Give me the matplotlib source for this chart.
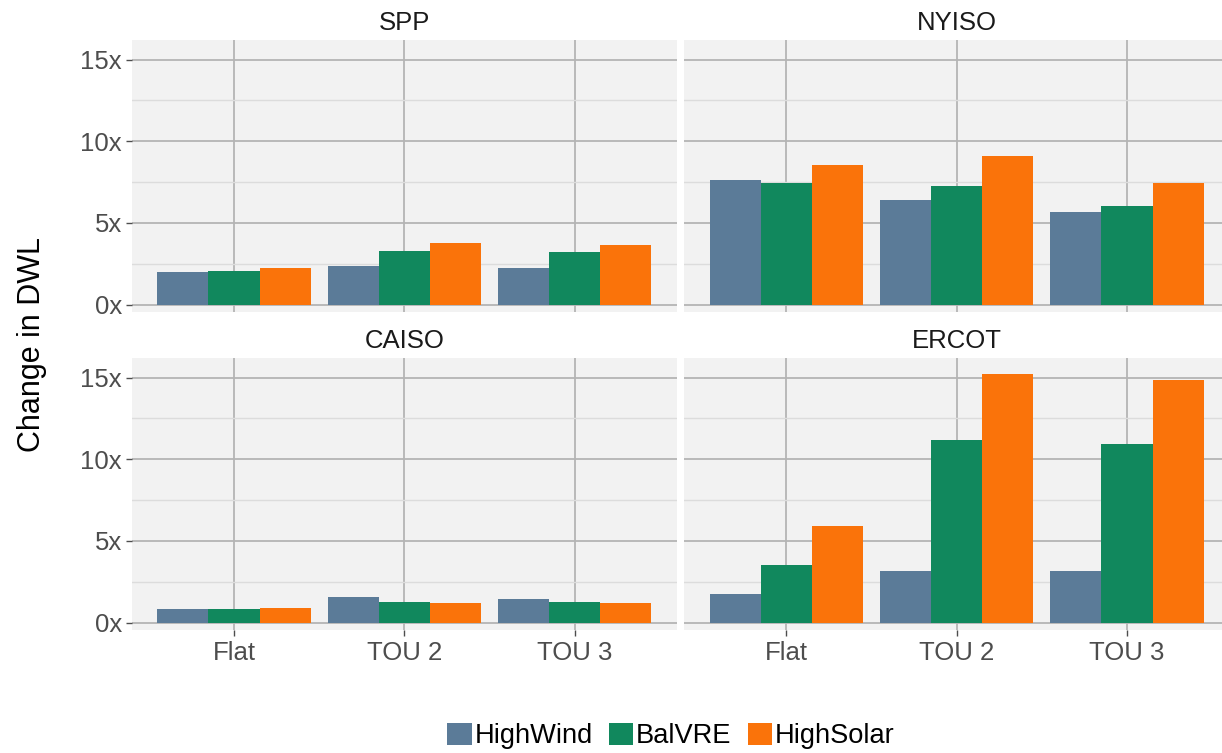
import numpy as np
import matplotlib
matplotlib.use("Agg")
import matplotlib.pyplot as plt
from matplotlib.patches import Patch

plt.rcParams["font.family"] = ["Liberation Sans", "DejaVu Sans"]

# pricing schemes on the x axis
tariffs = ["Flat", "TOU 2", "TOU 3"]
scenarios = ["HighWind", "BalVRE", "HighSolar"]
colors = ["#5b7b98", "#11885d", "#fa730a"]

# change in DWL, one row per scenario, one column per tariff
spp = [[2.0, 2.37, 2.27],
       [2.08, 3.31, 3.22],
       [2.27, 3.80, 3.67]]
nyiso = [[7.65, 6.42, 5.69],
         [7.46, 7.28, 6.05],
         [8.56, 9.11, 7.46]]
caiso = [[0.86, 1.55, 1.45],
         [0.86, 1.26, 1.26],
         [0.87, 1.18, 1.18]]
ercot = [[1.74, 3.16, 3.16],
         [3.53, 11.16, 10.96],
         [5.91, 15.25, 14.86]]

W, H = 1222, 753
fig = plt.figure(figsize=(W / 100, H / 100), dpi=100)

pw = (677 - 131.7) / W
ph = 272 / H
panels = [
    ("SPP", spp, 131.7, 312, True, False),
    ("NYISO", nyiso, 684, 312, False, False),
    ("CAISO", caiso, 131.7, 630, True, True),
    ("ERCOT", ercot, 684, 630, False, True),
]

x = np.arange(len(tariffs))
bw = 0.3
tick_grey = "#4d4d4d"

for name, vals, left, bottom, show_y, show_x in panels:
    ax = fig.add_axes([left / W, 1 - bottom / H, pw, ph])
    ax.set_facecolor("#f2f2f2")
    for i, s in enumerate(scenarios):
        ax.bar(x + (i - 1) * bw, vals[i], width=bw, color=colors[i],
               label=s, zorder=3)
    ax.set_xlim(-0.6, 2.6)
    ax.set_ylim(-0.45, 16.2)
    ax.set_yticks([0, 5, 10, 15])
    ax.set_yticks([2.5, 7.5, 12.5], minor=True)
    ax.set_xticks(x)
    ax.grid(which="major", color="#b4b4b4", linewidth=1.3, zorder=0)
    ax.grid(which="minor", axis="y", color="#dcdcdc", linewidth=1.0, zorder=0)
    ax.set_axisbelow(True)
    for sp in ax.spines.values():
        sp.set_visible(False)
    ax.tick_params(which="minor", length=0)
    ax.tick_params(which="major", color=tick_grey, length=4, width=1,
                   labelsize=18.5, labelcolor=tick_grey, pad=3)
    if show_y:
        ax.set_yticklabels(["0x", "5x", "10x", "15x"])
    else:
        ax.tick_params(axis="y", length=0, labelleft=False)
    if show_x:
        ax.set_xticklabels(tariffs)
        ax.tick_params(axis="x", pad=4)
    else:
        ax.tick_params(axis="x", length=0, labelbottom=False)
    ax.set_title(name, fontsize=18.5, color="#1a1a1a", pad=7)

fig.text(32 / W, 1 - 345 / H, "Change in DWL", rotation=90,
         ha="center", va="center", fontsize=22, color="black")

handles = [Patch(facecolor=c, label=s) for c, s in zip(colors, scenarios)]
fig.legend(handles=handles, loc="center", bbox_to_anchor=(671 / W, 1 - 736 / H),
           ncol=3, frameon=False, fontsize=19.6, handlelength=0.9,
           handleheight=0.9, handletextpad=0.1, columnspacing=0.6,
           borderpad=0)

fig.savefig("out.png", dpi=100)
